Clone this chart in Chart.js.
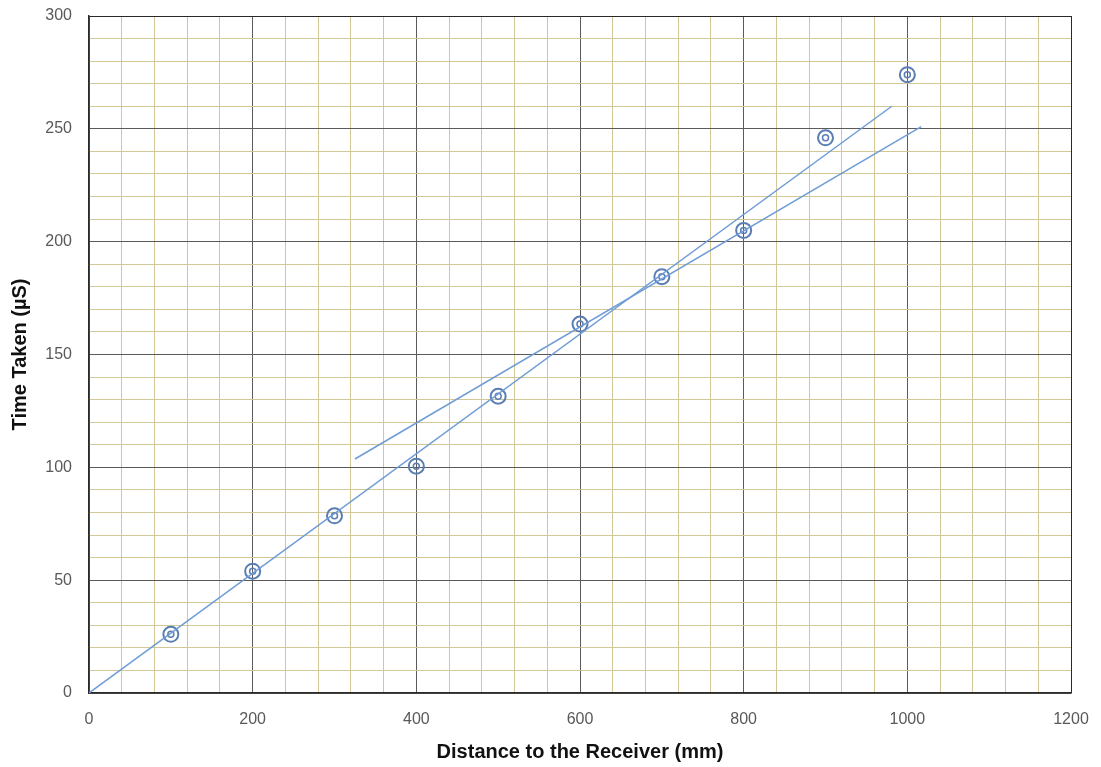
<!DOCTYPE html>
<html lang="en">
<head>
    <meta charset="UTF-8" />
    <title>Time Taken vs Distance</title>
    <script src="https://cdn.jsdelivr.net/npm/chart.js"></script>
    <style>
        html, body { margin: 0; padding: 0; background: #fff; }
        #wrap { width: 1101px; height: 767px; }
    </style>
</head>
<body>
    <div id="wrap"><canvas id="chart"></canvas></div>

    <script>
        // measured points
        const distances = [100, 200, 300, 400, 500, 600, 700, 800, 900, 1000];
        const times = [26, 54, 78.5, 100.5, 131.5, 163.5, 184.5, 205, 246, 274];

        // two trend lines (end points)
        const trendAx = [0, 981];
        const trendAy = [0, 260];
        const trendBx = [325, 1017];
        const trendBy = [103.7, 251];

        const xTicks = [0, 200, 400, 600, 800, 1000, 1200];
        const yTicks = [0, 50, 100, 150, 200, 250, 300];

        const pts = (xs, ys) => xs.map((x, i) => ({ x: x, y: ys[i] }));

        const markerColor = "#5a7db2";
        const lineColor = "#6f9cd6";
        const minorGrid = "#d2c796";
        const majorGrid = "#5a5a5a";
        const frame = "#2a2a2a";
        const font = "'Liberation Sans', Arial, sans-serif";

        const gridColor = (max, majors) => (ctx) => {
            const v = Math.round(ctx.tick.value);
            if (v === max) return frame;
            return majors.includes(v) ? majorGrid : minorGrid;
        };

        new Chart(document.getElementById("chart"), {
            type: "scatter",
            data: {
                datasets: [
                    {
                        type: "line",
                        data: pts(trendAx, trendAy),
                        borderColor: lineColor,
                        borderWidth: 1.5,
                        pointRadius: 0,
                        fill: false
                    },
                    {
                        type: "line",
                        data: pts(trendBx, trendBy),
                        borderColor: lineColor,
                        borderWidth: 1.5,
                        pointRadius: 0,
                        fill: false
                    },
                    {
                        data: pts(distances, times),
                        pointRadius: 7.5,
                        pointBorderWidth: 2,
                        pointBorderColor: markerColor,
                        pointBackgroundColor: "rgba(0,0,0,0)"
                    },
                    {
                        data: pts(distances, times),
                        pointRadius: 3,
                        pointBorderWidth: 1.5,
                        pointBorderColor: markerColor,
                        pointBackgroundColor: "rgba(0,0,0,0)"
                    }
                ]
            },
            options: {
                responsive: true,
                maintainAspectRatio: false,
                animation: false,
                layout: { padding: { top: 16, right: 30, left: 0, bottom: 0 } },
                plugins: { legend: { display: false }, tooltip: { enabled: false } },
                scales: {
                    x: {
                        type: "linear",
                        min: xTicks[0],
                        max: xTicks[xTicks.length - 1],
                        afterFit: (s) => {
                            s.height = 74;
                            s.paddingLeft = 0;
                            s.paddingRight = 0;
                        },
                        ticks: {
                            stepSize: 40,
                            autoSkip: false,
                            maxRotation: 0,
                            padding: 17,
                            color: "#595959",
                            font: { family: font, size: 16 },
                            callback: (v) => xTicks.includes(v) ? v : ""
                        },
                        grid: { drawTicks: false, color: gridColor(1200, xTicks), lineWidth: 1 },
                        border: { color: frame, width: 1.5 },
                        title: {
                            display: true,
                            text: "Distance to the Receiver (mm)",
                            color: "#111",
                            font: { family: font, size: 20, weight: "bold" },
                            padding: { top: 0, bottom: 3 }
                        }
                    },
                    y: {
                        type: "linear",
                        min: yTicks[0],
                        max: yTicks[yTicks.length - 1],
                        afterFit: (s) => {
                            s.width = 89;
                            s.paddingTop = 0;
                            s.paddingBottom = 0;
                        },
                        ticks: {
                            stepSize: 10,
                            autoSkip: false,
                            padding: 17,
                            color: "#595959",
                            font: { family: font, size: 16 },
                            callback: (v) => yTicks.includes(v) ? v : ""
                        },
                        grid: { drawTicks: false, color: gridColor(300, yTicks), lineWidth: 1 },
                        border: { color: frame, width: 1.5 },
                        title: {
                            display: true,
                            text: "Time Taken (µS)",
                            color: "#111",
                            font: { family: font, size: 20, weight: "bold" },
                            padding: { top: 8, bottom: 0 }
                        }
                    }
                }
            }
        });
    </script>
</body>
</html>
